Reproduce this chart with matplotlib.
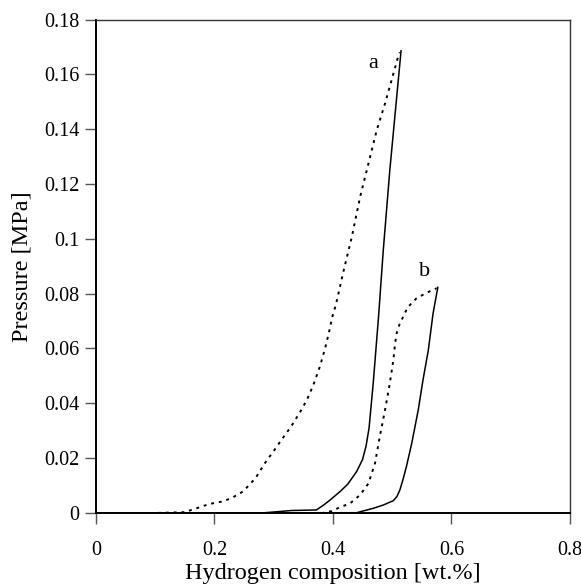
import matplotlib
matplotlib.use('Agg')
import matplotlib.pyplot as plt

plt.rcParams['font.family'] = 'Liberation Serif'
plt.rcParams['font.size'] = 14.5

# Curve a, dotted branch (composition wt.%, pressure MPa)
a_dot_x = [0.0, 0.10, 0.15, 0.164, 0.192, 0.216, 0.232, 0.248, 0.260, 0.270, 0.285,
           0.302, 0.313, 0.330, 0.344, 0.356, 0.367, 0.378, 0.386, 0.393, 0.399,
           0.405, 0.417, 0.432, 0.446, 0.460, 0.474, 0.488, 0.499, 0.510, 0.513]
a_dot_y = [0.0, 0.0, 0.0003, 0.0013, 0.0033, 0.0043, 0.0058, 0.0078, 0.0105, 0.0129, 0.0181,
           0.0232, 0.0266, 0.0317, 0.0366, 0.0412, 0.0467, 0.0534, 0.0594, 0.0655, 0.0716,
           0.0759, 0.0874, 0.1008, 0.1154, 0.1275, 0.1397, 0.1494, 0.1579, 0.1664, 0.168]

# Curve a, solid branch
a_sol_x = [0.0, 0.28, 0.33, 0.372, 0.385, 0.395, 0.412, 0.425, 0.440, 0.450, 0.456,
           0.461, 0.468, 0.477, 0.485, 0.496, 0.506, 0.515]
a_sol_y = [0.0, 0.0, 0.0009, 0.0011, 0.003, 0.0047, 0.0078, 0.0105, 0.0151, 0.0195, 0.0245,
           0.0310, 0.0473, 0.0716, 0.0959, 0.125, 0.148, 0.1686]

# Curve b, dotted branch
b_dot_x = [0.0, 0.383, 0.398, 0.412, 0.429, 0.446, 0.460, 0.471, 0.479, 0.488, 0.496,
           0.502, 0.505, 0.5075, 0.512, 0.516, 0.521, 0.527, 0.541, 0.558, 0.575]
b_dot_y = [0.0, 0.0, 0.0007, 0.0021, 0.0035, 0.0066, 0.0108, 0.0181, 0.0278, 0.0376, 0.0473,
           0.0558, 0.0619, 0.0655, 0.0686, 0.0704, 0.0728, 0.0752, 0.0783, 0.0803, 0.082]

# Curve b, solid branch
b_sol_x = [0.0, 0.44, 0.468, 0.485, 0.502, 0.508, 0.513, 0.518, 0.524, 0.533, 0.544,
           0.552, 0.561, 0.569, 0.577]
b_sol_y = [0.0, 0.0001, 0.0017, 0.0029, 0.0045, 0.0060, 0.0084, 0.0120, 0.0169, 0.0254, 0.0376,
           0.0485, 0.0594, 0.0728, 0.0823]

X_TICKS = [0, 0.2, 0.4, 0.6, 0.8]
X_LABELS = ['0', '0.2', '0.4', '0.6', '0.8']
Y_TICKS = [0, 0.02, 0.04, 0.06, 0.08, 0.10, 0.12, 0.14, 0.16, 0.18]
Y_LABELS = ['0', '0.02', '0.04', '0.06', '0.08', '0.1', '0.12', '0.14', '0.16', '0.18']

fig = plt.figure(figsize=(5.81, 5.84), dpi=100)
ax = fig.add_axes([0.165, 0.1216, 0.816, 0.845])

dot_style = (0, (1.5, 2.5))
ax.plot(a_dot_x, a_dot_y, color='black', lw=1.4, linestyle=dot_style)
ax.plot(a_sol_x, a_sol_y, color='black', lw=1.1)
ax.plot(b_dot_x, b_dot_y, color='black', lw=1.4, linestyle=dot_style)
ax.plot(b_sol_x, b_sol_y, color='black', lw=1.1)

ax.text(0.468, 0.164, 'a', fontsize=16, ha='center', va='center')
ax.text(0.554, 0.088, 'b', fontsize=16, ha='center', va='center')

ax.set_xlim(0, 0.8)
ax.set_ylim(0, 0.18)
ax.set_xticks(X_TICKS)
ax.set_xticklabels(X_LABELS)
ax.set_yticks(Y_TICKS)
ax.set_yticklabels(Y_LABELS)
ax.tick_params(direction='out', length=8, width=1, color='#555555')
ax.tick_params(axis='x', pad=12)
ax.tick_params(axis='y', pad=4)

for side in ['left', 'bottom']:
    ax.spines[side].set_linewidth(1.4)
for side in ['top', 'right']:
    ax.spines[side].set_linewidth(1.0)
    ax.spines[side].set_color('#333333')

ax.set_xlabel('Hydrogen composition [wt.%]', fontsize=17.5, labelpad=2)
ax.set_ylabel('Pressure [MPa]', fontsize=17.5, labelpad=8)

fig.savefig('out.png', dpi=100, facecolor='white')
